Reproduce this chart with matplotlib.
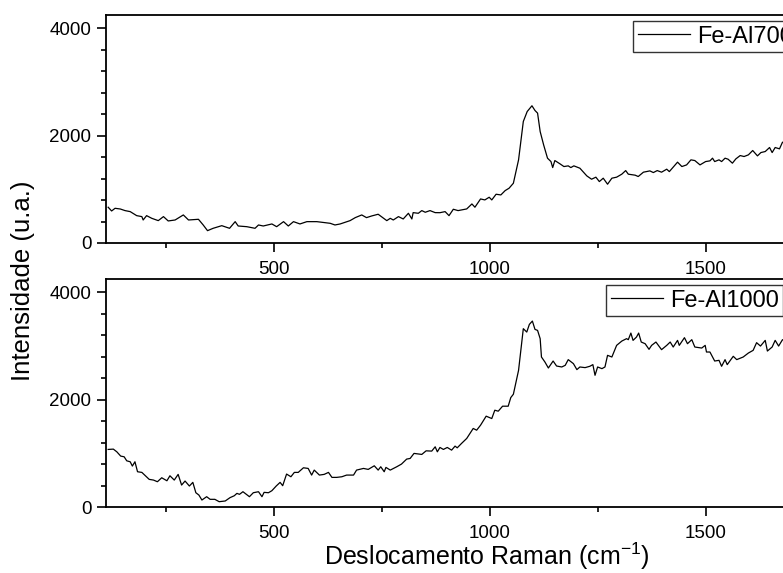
import matplotlib
matplotlib.use('Agg')
import matplotlib.pyplot as plt
from matplotlib.ticker import MultipleLocator

plt.rcParams['font.family'] = ['Liberation Sans', 'DejaVu Sans']
plt.rcParams['mathtext.default'] = 'regular'

# Fe-Al700 spectrum
x_700 = [116, 124, 132, 144, 155, 167, 182, 194, 197, 205, 217, 232, 244, 255, 271, 290,
         302, 325, 336, 346, 359, 379, 397, 410, 417, 437, 456, 464, 475, 495, 506, 522,
         533, 545, 560, 576, 599, 630, 641, 653, 676, 688, 703, 714, 726, 741, 761, 769,
         776, 788, 799, 811, 819, 822, 834, 842, 850, 861, 873, 884, 896, 905, 915, 926,
         946, 958, 965, 978, 988, 998, 1004, 1014, 1025, 1035, 1044, 1054, 1066, 1077,
         1086, 1097, 1104, 1110, 1116, 1124, 1133, 1141, 1145, 1150, 1162, 1171, 1181,
         1187, 1194, 1208, 1224, 1235, 1245, 1253, 1262, 1272, 1282, 1293, 1305, 1314,
         1320, 1336, 1343, 1355, 1370, 1378, 1387, 1397, 1409, 1415, 1424, 1434, 1444,
         1455, 1465, 1474, 1486, 1499, 1509, 1515, 1520, 1530, 1536, 1544, 1551, 1561,
         1569, 1579, 1588, 1598, 1608, 1619, 1627, 1637, 1647, 1653, 1660, 1670, 1677,
         1686, 1695]
y_700 = [667, 597, 647, 634, 604, 585, 510, 492, 429, 510, 460, 417, 492, 411, 429, 523,
         429, 442, 336, 230, 274, 323, 274, 398, 317, 304, 274, 336, 317, 355, 304, 398,
         317, 398, 355, 398, 398, 367, 336, 355, 417, 473, 523, 473, 504, 536, 417, 460,
         429, 492, 448, 554, 448, 566, 554, 604, 573, 604, 566, 565, 585, 510, 629, 604,
         635, 728, 667, 821, 803, 853, 803, 909, 896, 977, 1021, 1114, 1550, 2265,
         2451, 2558, 2470, 2421, 2078, 1830, 1581, 1518, 1406, 1537, 1475, 1425, 1438,
         1406, 1438, 1394, 1251, 1189, 1227, 1145, 1208, 1096, 1208, 1227, 1283, 1350,
         1283, 1264, 1239, 1320, 1344, 1313, 1350, 1320, 1376, 1331, 1413, 1507, 1425,
         1456, 1550, 1537, 1456, 1518, 1531, 1581, 1518, 1550, 1518, 1581, 1562, 1488,
         1568, 1630, 1612, 1643, 1724, 1624, 1686, 1705, 1780, 1686, 1780, 1755, 1880,
         1840, 1900]

# Fe-Al1000 spectrum
x_1000 = [116, 128, 136, 145, 153, 159, 167, 172, 178, 184, 194, 211, 221, 230, 240, 252,
          259, 269, 278, 286, 294, 304, 312, 319, 326, 333, 344, 352, 363, 373, 387, 398,
          408, 414, 420, 428, 443, 452, 464, 472, 477, 487, 495, 505, 514, 520, 529, 539,
          547, 556, 568, 579, 587, 593, 605, 616, 626, 634, 645, 657, 668, 684, 691, 707,
          718, 732, 741, 747, 755, 759, 769, 784, 795, 807, 815, 824, 842, 852, 865, 873,
          878, 884, 892, 901, 911, 919, 924, 934, 946, 961, 969, 978, 991, 1004, 1011,
          1019, 1029, 1042, 1048, 1054, 1066, 1077, 1085, 1091, 1098, 1104, 1110, 1116,
          1119, 1127, 1135, 1146, 1154, 1166, 1174, 1181, 1193, 1201, 1208, 1220, 1231,
          1238, 1243, 1249, 1259, 1266, 1272, 1282, 1293, 1305, 1316, 1320, 1326, 1331,
          1339, 1344, 1350, 1359, 1368, 1374, 1384, 1397, 1409, 1417, 1424, 1434, 1438,
          1450, 1457, 1467, 1474, 1490, 1498, 1501, 1509, 1520, 1530, 1536, 1544, 1549,
          1563, 1571, 1586, 1598, 1609, 1617, 1626, 1637, 1642, 1653, 1660, 1668, 1677,
          1686, 1695]
y_1000 = [1073, 1079, 1029, 949, 936, 861, 843, 763, 843, 657, 645, 515, 502, 471, 545, 489,
          582, 502, 608, 409, 484, 391, 459, 266, 223, 130, 192, 143, 143, 99, 112, 174,
          210, 254, 236, 285, 192, 266, 285, 192, 273, 266, 304, 391, 459, 397, 614, 564,
          645, 645, 731, 719, 595, 688, 595, 608, 645, 552, 552, 564, 595, 595, 688, 719,
          701, 768, 688, 750, 657, 738, 688, 750, 800, 893, 905, 999, 980, 1047, 1042, 1122,
          1029, 1110, 1073, 1110, 1060, 1135, 1103, 1185, 1278, 1464, 1432, 1525, 1693, 1649, 1804,
          1786, 1879, 1879, 2040, 2102, 2548, 3324, 3261, 3404, 3466, 3311, 3292, 3138,
          2796, 2703, 2591, 2721, 2628, 2610, 2641, 2747, 2672, 2561, 2610, 2598, 2623,
          2654, 2455, 2610, 2579, 2610, 2827, 2796, 3013, 3093, 3138, 3119, 3242, 3106,
          3168, 3242, 3075, 3044, 2939, 3013, 3075, 2933, 3013, 3075, 2982, 3106, 3013,
          3156, 3044, 3119, 2982, 2963, 3013, 2889, 2889, 2721, 2734, 2623, 2747, 2654,
          2809, 2747, 2796, 2870, 2920, 3063, 3000, 3106, 2907, 2982, 3106, 3000, 3119,
          3080, 3150]

W, H = 783, 573
fig = plt.figure(figsize=(W / 100, H / 100), dpi=100)

xmin, xmax = 111, 1875
px_per_unit = 0.432
ax_w = (xmax - xmin) * px_per_unit / W
ax_top = fig.add_axes([106 / W, 1 - 243 / H, ax_w, 228 / H])
ax_bot = fig.add_axes([106 / W, 1 - 507 / H, ax_w, 228 / H])

panels = [(ax_top, x_700, y_700, 'Fe-Al700', (633 / W, 1 - 21 / H)),
          (ax_bot, x_1000, y_1000, 'Fe-Al1000', (606 / W, 1 - 285 / H))]

for ax, xs, ys, name, anchor in panels:
    ax.plot(xs, ys, color='black', lw=0.9, label=name)
    ax.set_xlim(xmin, xmax)
    ax.set_ylim(0, 4250)
    ax.xaxis.set_major_locator(MultipleLocator(500))
    ax.xaxis.set_minor_locator(MultipleLocator(250))
    ax.yaxis.set_major_locator(MultipleLocator(2000))
    ax.yaxis.set_minor_locator(MultipleLocator(400))
    ax.tick_params(which='both', direction='out', width=1.2, labelsize=13.5, colors='black')
    ax.tick_params(which='major', length=6.5)
    ax.tick_params(axis='x', which='major', pad=6.5)
    ax.tick_params(axis='y', which='major', pad=4)
    ax.tick_params(which='minor', length=3.5)
    for sp in ax.spines.values():
        sp.set_linewidth(1.3)
    leg = ax.legend(loc='upper left', bbox_to_anchor=anchor, bbox_transform=fig.transFigure,
                    fontsize=17, frameon=True, fancybox=False, borderaxespad=0,
                    borderpad=0.2, handlelength=2.2, handletextpad=0.3)
    leg.get_frame().set_edgecolor('black')
    leg.get_frame().set_linewidth(1.0)
    leg.get_lines()[0].set_linewidth(0.9)

fig.text(23 / W, 1 - 281 / H, 'Intensidade (u.a.)', rotation=90, ha='center', va='center',
         fontsize=18.5)
fig.text(487 / W, 1 - 565 / H, 'Deslocamento Raman (cm$^{-1}$)', ha='center', va='baseline',
         fontsize=18)

fig.savefig('out.png', dpi=100)
